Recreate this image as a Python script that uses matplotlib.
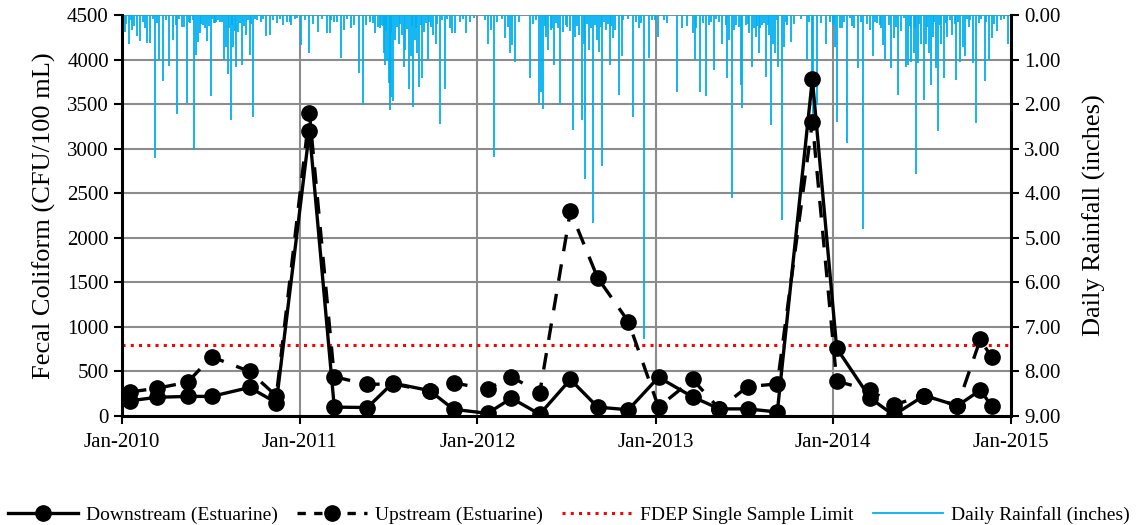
import numpy as np
import pandas as pd
import matplotlib
matplotlib.use("Agg")
import matplotlib.pyplot as plt
import matplotlib.dates as mdates
from matplotlib.lines import Line2D

plt.rcParams['font.family'] = ['Liberation Serif', 'DejaVu Serif']

# ---------------- data ----------------
sample_dates = ["2010-01-17", "2010-03-13", "2010-05-16", "2010-07-04", "2010-09-20", "2010-11-14",
                "2011-01-21", "2011-03-13", "2011-05-20", "2011-07-11", "2011-09-25", "2011-11-13",
                "2012-01-22", "2012-03-11", "2012-05-08", "2012-07-10", "2012-09-04", "2012-11-06",
                "2013-01-07", "2013-03-18", "2013-05-12", "2013-07-09", "2013-09-08", "2013-11-19",
                "2014-01-08", "2014-03-18", "2014-05-05", "2014-07-07", "2014-09-13", "2014-10-30",
                "2014-11-22"]
downstream = [170, 210, 220, 220, 320, 150,
              3200, 100, 95, 370, 285, 75,
              30, 200, 20, 410, 100, 70,
              435, 215, 80, 80, 45, 3780,
              760, 200, 10, 230, 115, 290,
              115]
upstream = [270, 310, 380, 665, 500, 225,
            3400, 440, 355, 360, 280, 370,
            305, 440, 260, 2300, 1550, 1060,
            100, 410, 80, 330, 360, 3300,
            390, 290, 125, 230, 115, 860,
            660]
fdep_limit = 800

# daily rainfall (larger events): day number counted from 2010-01-01, depth in inches
rain_day = [6, 14, 21, 31, 38, 51, 58, 68, 77, 84, 97, 104, 112, 123, 133, 140, 148, 152, 157, 160,
            166, 174, 182, 188, 194, 201, 210, 214, 218, 223, 229, 234, 239, 246, 255, 263, 270, 277,
            296, 303, 318, 330, 338, 348, 359, 367,
            385, 403, 422, 427, 430, 442, 449, 456, 470, 477, 486, 495, 509, 520, 526, 533, 538, 541,
            545, 548, 550, 553, 557, 560, 568, 575, 579, 582, 589, 593, 598, 601, 606, 611, 616, 620,
            628, 634, 639, 644, 653, 663, 673, 678, 683, 694, 707, 714, 723,
            751, 758, 765, 787, 792, 796, 801, 808, 838, 856, 861, 864, 871, 876, 881, 888, 895, 900,
            905, 911, 926, 931, 939, 945, 948, 952, 960, 967, 975, 979, 986, 994, 1002, 1008, 1013,
            1020, 1027, 1049, 1061, 1066, 1073, 1083, 1089,
            1100, 1113, 1139, 1151, 1172, 1176, 1187, 1194, 1199, 1206, 1216, 1226, 1233, 1240, 1243,
            1247, 1252, 1257, 1272, 1274, 1281, 1288, 1293, 1298, 1302, 1308, 1315, 1322, 1329, 1333,
            1338, 1341, 1348, 1355, 1359, 1366, 1374, 1406, 1418, 1420, 1428, 1445, 1455,
            1462, 1465, 1469, 1475, 1482, 1489, 1496, 1503, 1512, 1518, 1523, 1537, 1542, 1551, 1557,
            1564, 1568, 1580, 1585, 1594, 1606, 1610, 1615, 1621, 1626, 1631, 1635, 1642, 1647, 1651,
            1657, 1661, 1665, 1671, 1676, 1683, 1688, 1695, 1705, 1713, 1722, 1727, 1732, 1739, 1747,
            1754, 1772, 1780, 1787, 1797, 1819, 1825]
rain_in = [0.37, 0.65, 0.34, 0.47, 0.58, 0.62, 0.62, 3.22, 1.01, 1.47, 1.14, 0.56, 2.22, 0.28, 1.98, 0.19,
           3.03, 0.90, 0.60, 0.41, 0.22, 0.58, 1.82, 0.19, 0.15, 0.15, 1.01, 0.71, 1.32, 2.36, 0.71, 1.17,
           0.37, 1.12, 0.45, 0.90, 2.30, 0.11, 0.47, 0.45, 0.19, 0.22, 0.15, 0.22, 0.07, 0.67,
           0.86, 0.37, 0.41, 0.41, 0.11, 0.15, 0.97, 0.34, 0.30, 0.22, 1.31, 2.02, 0.15, 0.41, 0.26, 0.22,
           0.86, 1.12, 1.01, 1.52, 2.13, 1.83, 1.94, 0.56, 0.64, 0.45, 1.16, 0.79, 1.65, 0.93, 2.06, 0.56,
           0.86, 1.61, 1.42, 0.37, 1.01, 0.26, 0.45, 0.64, 2.45, 1.65, 0.30, 0.41, 0.41, 0.15, 0.41, 0.15,
           0.07,
           0.64, 0.34, 3.18, 0.52, 0.26, 0.85, 0.67, 1.05, 1.42, 1.98, 1.72, 2.12, 0.49, 0.79, 0.34, 1.12,
           0.30, 2.02, 0.37, 0.22, 2.58, 0.49, 0.45, 2.36, 0.64, 3.69, 0.79, 4.67, 0.56, 0.82, 3.39, 0.34,
           1.12, 0.52, 0.34, 1.80, 0.93, 2.28, 0.30, 0.19, 7.28, 0.97, 0.11,
           0.49, 0.11, 1.72, 0.30, 0.41, 1.01, 1.72, 0.19, 1.82, 0.22, 1.23, 0.15, 0.64, 0.22, 1.42, 0.56,
           4.11, 0.34, 1.57, 2.09, 0.22, 0.41, 1.16, 0.30, 0.49, 0.86, 0.22, 1.38, 0.45, 2.47, 0.64, 0.86,
           1.16, 4.60, 0.71, 0.22, 0.60, 1.01, 1.61, 2.36, 2.02, 0.64, 0.15,
           0.19, 0.71, 2.39, 0.30, 0.15, 2.88, 0.07, 0.30, 1.20, 0.15, 4.81, 0.34, 0.93, 0.19, 0.22, 0.67,
           1.01, 1.20, 0.52, 1.80, 0.07, 1.16, 1.12, 1.05, 0.86, 3.57, 1.08, 0.64, 1.91, 0.64, 0.86, 1.57,
           0.49, 1.20, 2.60, 0.64, 1.42, 0.49, 0.45, 1.46, 1.05, 0.71, 0.93, 0.26, 1.08, 2.42, 1.47, 1.00,
           0.52, 0.35, 0.64, 0.37]

# daily rainfall (smaller showers)
small_day = [2, 9, 18, 25, 44, 47, 63, 72, 90, 110, 117, 127, 137, 145, 163, 170, 178, 185, 191, 198,
             205, 220, 226, 232, 243, 250, 258, 266, 274, 285, 290, 310, 325, 345, 355, 375, 392, 410,
             436, 463, 502, 515, 530, 536, 543, 552, 564, 572, 586, 596, 604, 614, 625, 631, 648, 658,
             668, 700, 745, 770, 780, 815, 845, 850, 868, 884, 892, 915, 920, 935, 955, 963, 971, 983,
             990, 998, 1005, 1030, 1040, 1055, 1095, 1120, 1160, 1180, 1210, 1220, 1262, 1268, 1285,
             1305, 1311, 1318, 1326, 1345, 1363, 1380, 1395, 1412, 1435, 1460, 1478, 1500, 1530, 1546,
             1560, 1575, 1590, 1600, 1618, 1628, 1638, 1654, 1668, 1680, 1692, 1700, 1710, 1718, 1735,
             1742, 1760, 1765, 1775, 1792, 1805, 1812]
small_in = [0.10, 0.20, 0.12, 0.25, 0.15, 0.30, 0.08, 0.18, 0.12, 0.22, 0.10, 0.28, 0.15, 0.12, 0.20, 0.30,
            0.25, 0.10, 0.18, 0.12,
            0.15, 0.30, 0.22, 0.35, 0.18, 0.25, 0.12, 0.20, 0.10, 0.15, 0.08, 0.12, 0.10, 0.15, 0.08, 0.12,
            0.20, 0.10,
            0.15, 0.10, 0.22, 0.18, 0.30, 0.25, 0.35, 0.40, 0.28, 0.20, 0.32, 0.25, 0.30, 0.22, 0.18, 0.15,
            0.20, 0.12,
            0.10, 0.08, 0.12, 0.15, 0.10, 0.15, 0.20, 0.12, 0.25, 0.30, 0.18, 0.28, 0.35, 0.25, 0.20, 0.30,
            0.22, 0.28,
            0.15, 0.20, 0.25, 0.12, 0.10, 0.15, 0.12, 0.18, 0.25, 0.30, 0.15, 0.10, 0.22, 0.28, 0.20,
            0.25, 0.30, 0.18, 0.22, 0.12, 0.15, 0.20, 0.10, 0.15, 0.18, 0.22, 0.30, 0.25, 0.20, 0.15,
            0.30, 0.22, 0.28, 0.35, 0.25, 0.30, 0.20, 0.28, 0.15, 0.22, 0.18, 0.12, 0.20, 0.15, 0.10,
            0.12, 0.18, 0.10, 0.15, 0.20, 0.12, 0.10]

year_ticks = ["2010-01-01", "2011-01-01", "2012-01-01", "2013-01-01", "2014-01-01", "2015-01-01"]

# ---------------- figure ----------------
fig = plt.figure(figsize=(11.38, 5.25), dpi=100)
ax2 = fig.add_axes([0.1072, 0.2076, 0.7812, 0.7638])
ax1 = fig.add_axes([0.1072, 0.2076, 0.7812, 0.7638], sharex=ax2)
ax1.set_zorder(ax2.get_zorder() + 1)
ax1.patch.set_visible(False)

sd = pd.to_datetime(sample_dates)
start = pd.Timestamp("2010-01-01")
rd = start + pd.to_timedelta(rain_day, unit="D")
rd_small = start + pd.to_timedelta(small_day, unit="D")
yt = pd.to_datetime(year_ticks)

grid_c = "#8c8c8c"
blue = "#00B0F0"

# rainfall on secondary (right) axis, inverted
ax2.vlines(rd_small, 0, small_in, color=blue, lw=1.3, zorder=2)
ax2.vlines(rd, 0, rain_in, color=blue, lw=1.3, zorder=2)
ax2.set_ylim(9, 0)
ax2.set_yticks(np.arange(0, 10, 1))
ax2.set_yticklabels([f"{v:.2f}" for v in range(10)])
ax2.yaxis.tick_right()
ax2.yaxis.set_label_position("right")
ax2.set_axisbelow(True)
ax2.grid(True, which="major", axis="both", color=grid_c, lw=1.5, zorder=0)
ax2.set_ylabel("Daily Rainfall (inches)", fontsize=19, labelpad=16)

# fecal coliform on primary axis
ax1.plot(sd, downstream, color="black", lw=2.4, marker="o", ms=11,
         label="Downstream (Estuarine)", zorder=4)
ax1.plot(sd, upstream, color="black", lw=2.4, marker="o", ms=11,
         linestyle=(0, (5, 4)), label="Upstream (Estuarine)", zorder=3)
ax1.axhline(fdep_limit, color="#FF0000", lw=2.2, linestyle=(0, (1, 1.7)),
            label="FDEP Single Sample Limit", zorder=2)
ax1.set_ylim(0, 4500)
ax1.set_yticks(np.arange(0, 4501, 500))
ax1.set_ylabel("Fecal Coliform (CFU/100 mL)", fontsize=19, labelpad=8)

ax1.set_xlim(yt[0], yt[-1])
ax1.set_xticks(yt)
ax1.xaxis.set_major_formatter(mdates.DateFormatter("%b-%Y"))

for ax in (ax1, ax2):
    for s in ax.spines.values():
        s.set_visible(False)
ax1.spines["left"].set_visible(True)
ax1.spines["bottom"].set_visible(True)
ax2.spines["right"].set_visible(True)
for s in (ax1.spines["left"], ax1.spines["bottom"], ax2.spines["right"]):
    s.set_color("black")
    s.set_linewidth(2.2)

ax1.tick_params(axis="both", labelsize=15, length=6, width=1.5, direction="out", colors="black")
ax2.tick_params(axis="y", labelsize=15, length=6, width=1.5, direction="out", colors="black")
ax2.tick_params(axis="x", length=0, labelbottom=False)
ax1.tick_params(axis="x", pad=6)

# legend
handles = [
    Line2D([], [], color="black", lw=2.4, marker="o", ms=11),
    Line2D([], [], color="black", lw=2.4, marker="o", ms=11, linestyle=(0, (2.5, 2.5))),
    Line2D([], [], color="#FF0000", lw=2.2, linestyle=(0, (1, 1.7))),
    Line2D([], [], color=blue, lw=1.3),
]
labels = ["Downstream (Estuarine)", "Upstream (Estuarine)",
          "FDEP Single Sample Limit", "Daily Rainfall (inches)"]
fig.legend(handles, labels, loc="lower center", bbox_to_anchor=(0.5, -0.032), ncol=4,
           frameon=False, fontsize=14, handlelength=3.6, columnspacing=1.0, handletextpad=0.4)

fig.savefig("out.png", dpi=100)
